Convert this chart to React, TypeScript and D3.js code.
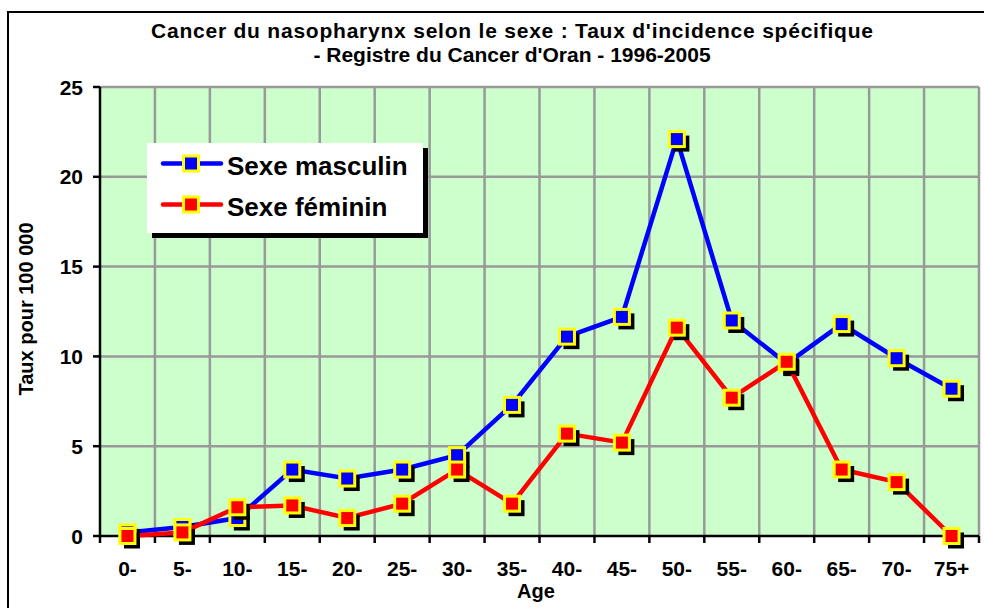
import React from "react";
import * as d3 from "d3";

const ageGroups = ["0-", "5-", "10-", "15-", "20-", "25-", "30-", "35-", "40-", "45-", "50-", "55-", "60-", "65-", "70-", "75+"];
const maleRates = [0.2, 0.5, 1.0, 3.7, 3.2, 3.7, 4.5, 7.3, 11.1, 12.2, 22.1, 12.0, 9.6, 11.8, 9.9, 8.2];
const femaleRates = [0.0, 0.2, 1.6, 1.7, 1.0, 1.8, 3.7, 1.8, 5.7, 5.2, 11.6, 7.7, 9.7, 3.7, 3.0, 0.0];
const yTicks = [0, 5, 10, 15, 20, 25];

const series = [
  { name: "Sexe masculin", values: maleRates, color: "#0000FF" },
  { name: "Sexe féminin", values: femaleRates, color: "#FF0000" },
];

const W = 984;
const H = 608;
const margin = { top: 87, right: 5, bottom: 72, left: 100 };
const font = "Arial, 'Liberation Sans', sans-serif";

function Marker({ x, y, color }: { x: number; y: number; color: string }) {
  const s = 15;
  return (
    <g>
      <rect x={x - s / 2 + 4} y={y - s / 2 + 4} width={s + 1} height={s + 1} fill="#000" />
      <rect x={x - s / 2} y={y - s / 2} width={s} height={s} fill={color} stroke="#FFFF00" strokeWidth={3} />
    </g>
  );
}

export default function App() {
  const x = d3.scaleBand().domain(ageGroups).range([margin.left, W - margin.right]);
  const y = d3.scaleLinear().domain([0, 25]).range([H - margin.bottom, margin.top]);
  const cx = (i: number) => (x(ageGroups[i]) as number) + x.bandwidth() / 2;
  const line = d3
    .line<number>()
    .x((_, i) => cx(i))
    .y((d) => y(d));

  const x0 = margin.left;
  const x1 = W - margin.right;
  const y0 = y(0);
  const yTop = y(25);

  return (
    <svg width={W} height={H} style={{ position: "absolute", left: 0, top: 0 }} fontFamily={font}>
      <rect x={0} y={0} width={W} height={H} fill="#fff" />
      {/* chart border */}
      <rect x={8} y={12} width={1000} height={H} fill="none" stroke="#000" strokeWidth={2} />

      <text x={512} y={38} textAnchor="middle" fontSize={21} fontWeight="bold" textLength={722} lengthAdjust="spacing">
        Cancer du nasopharynx selon le sexe : Taux d'incidence spécifique
      </text>
      <text x={512} y={62} textAnchor="middle" fontSize={21} fontWeight="bold">
        - Registre du Cancer d'Oran - 1996-2005
      </text>

      {/* plot area */}
      <rect x={x0} y={yTop} width={x1 - x0} height={y0 - yTop} fill="#CCFFCC" />
      {ageGroups.slice(1).map((g) => (
        <line key={g} x1={x(g)} x2={x(g)} y1={yTop} y2={y0} stroke="#999" strokeWidth={2.5} />
      ))}
      <line x1={x1} x2={x1} y1={yTop} y2={y0} stroke="#999" strokeWidth={2.5} />
      {yTicks.slice(1).map((t) => (
        <line key={t} x1={x0} x2={x1} y1={y(t)} y2={y(t)} stroke="#999" strokeWidth={2.5} />
      ))}

      {/* axes */}
      <line x1={x0} x2={x0} y1={yTop} y2={y0} stroke="#000" strokeWidth={2.5} />
      <line x1={x0} x2={x1} y1={y0} y2={y0} stroke="#000" strokeWidth={2.5} />
      {yTicks.map((t) => (
        <g key={t}>
          <line x1={x0 - 7} x2={x0} y1={y(t)} y2={y(t)} stroke="#000" strokeWidth={2.5} />
          <text x={83} y={y(t) + 7.5} textAnchor="end" fontSize={21} fontWeight="bold">
            {t}
          </text>
        </g>
      ))}
      {ageGroups.map((g) => (
        <line key={g} x1={x(g)} x2={x(g)} y1={y0} y2={y0 + 7} stroke="#000" strokeWidth={2.5} />
      ))}
      <line x1={x1} x2={x1} y1={y0} y2={y0 + 7} stroke="#000" strokeWidth={2.5} />
      {ageGroups.map((g, i) => (
        <text key={g} x={cx(i)} y={576} textAnchor="middle" fontSize={21} fontWeight="bold">
          {g}
        </text>
      ))}
      <text x={536} y={598} textAnchor="middle" fontSize={20} fontWeight="bold">
        Age
      </text>
      <text
        transform={`translate(33,309) rotate(-90)`}
        textAnchor="middle"
        fontSize={20}
        fontWeight="bold"
      >
        Taux pour 100 000
      </text>

      {/* series */}
      {series.map((s) => (
        <g key={s.name}>
          <path d={line(s.values) as string} fill="none" stroke={s.color} strokeWidth={4.5} />
          {s.values.map((v, i) => (
            <Marker key={i} x={cx(i)} y={y(v)} color={s.color} />
          ))}
        </g>
      ))}

      {/* legend */}
      <rect x={152} y={148} width={276} height={90} fill="#000" />
      <rect x={147} y={143} width={276} height={90} fill="#fff" />
      {series.map((s, i) => {
        const ly = 163.5 + i * 41;
        return (
          <g key={s.name}>
            <line x1={163} x2={221} y1={ly} y2={ly} stroke={s.color} strokeWidth={4.5} strokeLinecap="round" />
            <rect x={183.5} y={ly - 7.5} width={15} height={15} fill={s.color} stroke="#FFFF00" strokeWidth={3} />
            <text x={227} y={ly + 11} fontSize={26} fontWeight="bold">
              {s.name}
            </text>
          </g>
        );
      })}
    </svg>
  );
}
